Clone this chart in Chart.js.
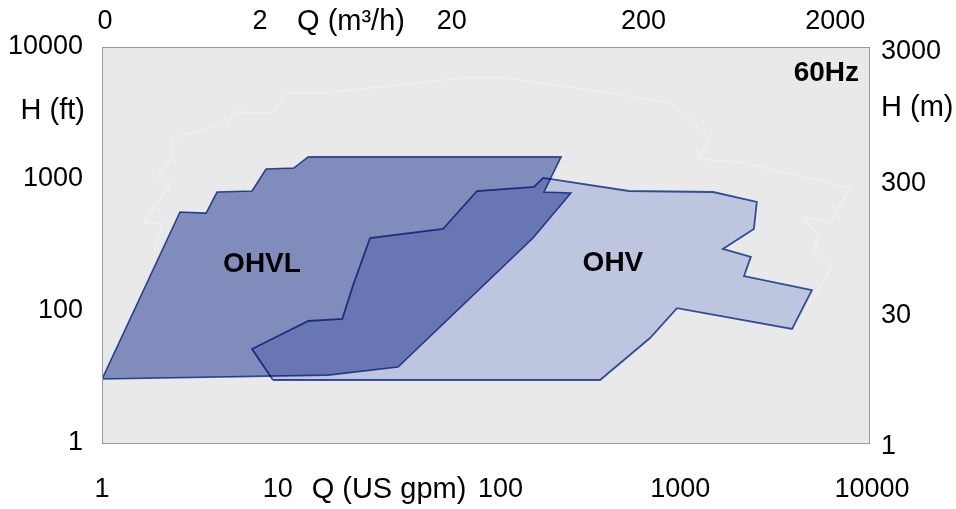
<!DOCTYPE html>
<html>
<head>
<meta charset="utf-8">
<script src="https://cdn.jsdelivr.net/npm/chart.js@4.4.1/dist/chart.umd.min.js"></script>
<style>
html,body{margin:0;padding:0;background:#fff;}
#wrap{width:956px;height:509px;position:relative;}
</style>
</head>
<body>
<div id="wrap"><canvas id="c"></canvas></div>
<script>
// ---- axis ticks ----
const flowGpmTicks = [1, 10, 100, 1000, 10000];
const flowGpmLabels = ['1', '10', '100', '1000', '10000'];
const flowM3hTicks = [0.3, 2, 20, 200, 2000];
const flowM3hLabels = ['0', '2', '20', '200', '2000'];
const headFtTicks = [10, 100, 1000, 10000];
const headFtLabels = ['1', '100', '1000', '10000'];
const headMTicks = [3.048, 30, 300, 3000];
const headMLabels = ['1', '30', '300', '3000'];

// ---- region outlines (Q in US gpm, H in ft) ----
const ohvlQ = [1.0, 2.55, 3.49, 3.98, 6.06, 7.17, 10.0, 11.9, 248, 202, 279, 177, 35.0, 15.1, 1.0];
const ohvlH = [30.5, 562, 552, 797, 811, 1190, 1210, 1470, 1470, 797, 783, 357, 37.6, 32.7, 30.5];

const ohvQ = [7.79, 6.06, 11.9, 17.9, 20.4, 25.0, 60.0, 90.3, 179, 200, 560, 1540, 2600, 2510, 1730, 2420, 2230, 5040, 3970, 997, 721, 396, 7.79];
const ohvH = [30.0, 51.5, 84.0, 87.0, 157, 357, 418, 811, 870, 1020, 811, 797, 670, 418, 295, 257, 184, 144, 73.1, 105, 62.4, 30.0, 30.0];

// faint background outline
const ghostQ = [1.89, 2.06, 1.64, 2.32, 1.96, 2.32, 2.32, 4.54, 4.94, 7.79, 9.11, 14.2, 76.3, 128, 441, 917, 1210, 1480, 1280, 2120, 3740, 7960, 6260, 4470, 5550, 5100, 6410, 4750];
const ghostH = [290, 464, 464, 949, 1036, 1468, 2045, 2656, 3218, 3162, 4482, 4482, 5824, 5824, 4482, 3766, 2703, 1975, 1417, 1345, 1110, 855, 464, 515, 364, 290, 215, 107];

const regionNames = ['OHVL', 'OHV'];
const regionLabelQ = [6.83, 462];
const regionLabelH = [227, 231];
const frequencyLabel = '60Hz';

const pts = (qs, hs) => qs.map((q, i) => ({x: q, y: hs[i]}));

const FONT = '"Liberation Sans", Arial, Helvetica, sans-serif';

const decoPlugin = {
  id: 'deco',
  beforeDraw(chart) {
    const {ctx, chartArea: a} = chart;
    ctx.save();
    ctx.fillStyle = '#ffffff';
    ctx.fillRect(0, 0, chart.width, chart.height);
    ctx.fillStyle = '#e9e9e9';
    ctx.fillRect(a.left, a.top, a.right - a.left, a.bottom - a.top);
    ctx.restore();
  },
  beforeDatasetsDraw(chart) {
    chart.ctx.globalCompositeOperation = 'multiply';
  },
  beforeDatasetDraw(chart, args) {
    if (args.meta._dataset && args.meta._dataset.label === 'ghost') {
      chart.ctx.globalCompositeOperation = 'source-over';
    }
  },
  afterDatasetDraw(chart, args) {
    if (args.meta._dataset && args.meta._dataset.label === 'ghost') {
      chart.ctx.globalCompositeOperation = 'multiply';
    }
  },
  afterDatasetsDraw(chart) {
    chart.ctx.globalCompositeOperation = 'source-over';
  },
  afterDraw(chart) {
    const {ctx, chartArea: a, scales} = chart;
    ctx.save();
    ctx.globalCompositeOperation = 'source-over';
    // plot frame
    ctx.strokeStyle = '#9a9a9a';
    ctx.lineWidth = 1;
    ctx.strokeRect(a.left + 0.5, a.top + 0.5, a.right - a.left, a.bottom - a.top);

    ctx.fillStyle = '#000';
    ctx.textBaseline = 'middle';
    const tickFont = '27px ' + FONT;
    const titleFont = '29px ' + FONT;

    // left axis (ft)
    ctx.font = tickFont;
    ctx.textAlign = 'right';
    headFtTicks.forEach((v, i) => {
      ctx.fillText(headFtLabels[i], a.left - 19, scales.y.getPixelForValue(v));
    });
    ctx.font = titleFont;
    ctx.fillText('H (ft)', a.left - 17, 111);

    // right axis (m)
    ctx.font = tickFont;
    ctx.textAlign = 'left';
    headMTicks.forEach((v, i) => {
      ctx.fillText(headMLabels[i], a.right + 12, scales.y2.getPixelForValue(v) + 4);
    });
    ctx.font = titleFont;
    ctx.fillText('H (m)', a.right + 12, 108);

    // bottom axis (US gpm)
    ctx.textAlign = 'center';
    ctx.font = tickFont;
    const bShift = [0, -16, 15, 3, 3];
    flowGpmTicks.forEach((v, i) => {
      ctx.fillText(flowGpmLabels[i], scales.x.getPixelForValue(v) + bShift[i], 490);
    });
    ctx.font = titleFont;
    ctx.fillText('Q (US gpm)', 389, 490);

    // top axis (m3/h)
    ctx.font = tickFont;
    const tShift = [3, 0, 0, 0, 0];
    flowM3hTicks.forEach((v, i) => {
      ctx.fillText(flowM3hLabels[i], scales.x2.getPixelForValue(v) + tShift[i], 22);
    });
    ctx.font = titleFont;
    ctx.fillText('Q (m\u00B3/h)', 351, 22);

    // bold labels
    ctx.font = 'bold 28px ' + FONT;
    ctx.textAlign = 'right';
    ctx.fillText(frequencyLabel, a.right - 10, 73);
    ctx.textAlign = 'center';
    regionNames.forEach((n, i) => {
      ctx.fillText(n, scales.x.getPixelForValue(regionLabelQ[i]), scales.y.getPixelForValue(regionLabelH[i]));
    });
    ctx.restore();
  }
};

const STROKE = 'rgb(62, 90, 172)';

new Chart(document.getElementById('c'), {
  type: 'scatter',
  data: {
    datasets: [
      {
        label: 'OHVL',
        data: pts(ohvlQ, ohvlH),
        showLine: true,
        fill: 'shape',
        backgroundColor: 'rgb(139, 153, 206)',
        borderColor: STROKE,
        borderWidth: 1.6,
        pointRadius: 0,
        tension: 0,
        order: 1
      },
      {
        label: 'OHV',
        data: pts(ohvQ, ohvH),
        showLine: true,
        fill: 'shape',
        backgroundColor: 'rgb(208, 217, 245)',
        borderColor: STROKE,
        borderWidth: 1.8,
        pointRadius: 0,
        tension: 0,
        order: 2
      },
      {
        label: 'ghost',
        data: pts(ghostQ, ghostH),
        showLine: true,
        fill: false,
        borderColor: 'rgba(255,255,255,0.3)',
        borderWidth: 1.4,
        pointRadius: 0,
        tension: 0,
        order: 3
      }
    ]
  },
  options: {
    responsive: true,
    maintainAspectRatio: false,
    animation: false,
    layout: {padding: {left: 102, top: 47, right: 87, bottom: 66}},
    plugins: {legend: {display: false}, tooltip: {enabled: false}},
    scales: {
      x: {type: 'logarithmic', min: 1, max: 10000, display: false},
      x2: {type: 'logarithmic', min: 0.3, max: 3000, display: false, position: 'top'},
      y: {type: 'logarithmic', min: 10, max: 10000, display: false},
      y2: {type: 'logarithmic', min: 3.048, max: 3048, display: false, position: 'right'}
    }
  },
  plugins: [decoPlugin]
});
</script>
</body>
</html>
